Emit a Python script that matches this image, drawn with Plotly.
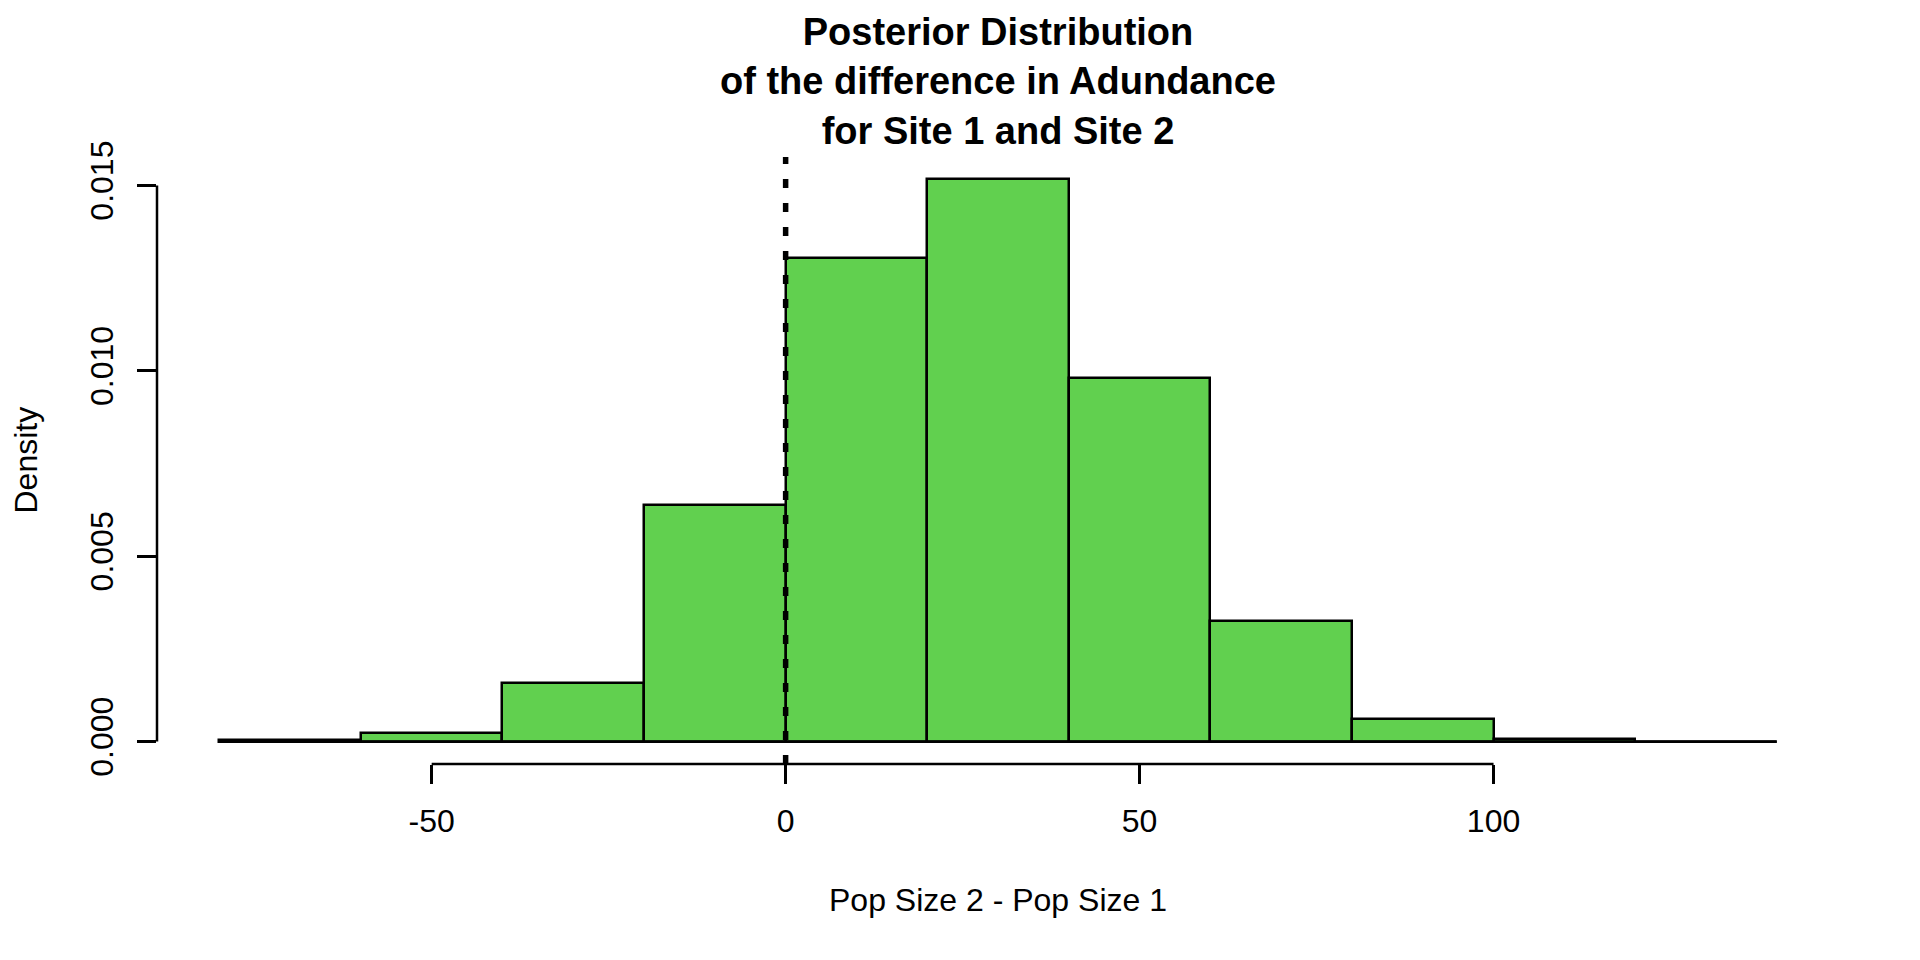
import plotly.graph_objects as go

# histogram of posterior draws (density scale), bins of width 20
breaks = [-80, -60, -40, -20, 0, 20, 40, 60, 80, 100, 120, 140]
density = [0.00003, 0.00023, 0.00159, 0.00638, 0.01305, 0.01516,
           0.00981, 0.00324, 0.00060, 0.00006, 0.0]

x_ticks = [-50, 0, 50, 100]
x_ticktext = ["-50", "0", "50", "100"]
y_ticks = [0.0, 0.005, 0.010, 0.015]
y_ticktext = ["0.000", "0.005", "0.010", "0.015"]

title_lines = ["Posterior Distribution", "of the difference in Adundance", "for Site 1 and Site 2"]
x_label = "Pop Size 2 - Pop Size 1"
y_label = "Density"
ref_line = 0

FONT = "Liberation Sans, Arial, sans-serif"
PAGE_OFFSET = 8  # default body margin of the html page
centers = [(a + b) / 2 for a, b in zip(breaks[:-1], breaks[1:])]

# R-style 4% range extension
xspan = breaks[-1] - breaks[0]
xr = [breaks[0] - 0.04 * xspan, breaks[-1] + 0.04 * xspan]
ymax = max(density)
yr = [-0.04 * ymax, ymax * 1.04]

fig = go.Figure()

fig.add_trace(go.Bar(x=centers, y=density, width=20,
                     marker=dict(color="#61D04F", line=dict(color="black", width=2.5)),
                     showlegend=False, hoverinfo="x+y"))

# outline along the baseline (covers the empty bins too)
fig.add_trace(go.Scatter(x=[breaks[0], breaks[-1]], y=[0, 0], mode="lines",
                         line=dict(color="black", width=2.5), showlegend=False,
                         hoverinfo="skip"))

# dotted reference line over the whole plot region
fig.add_shape(type="line", xref="x", yref="paper", x0=ref_line, x1=ref_line, y0=0, y1=1,
              line=dict(color="black", width=5.5, dash="9px,15px"))

# base-R style axis lines spanning first to last tick
fig.add_shape(type="line", xref="x", yref="paper", x0=x_ticks[0], x1=x_ticks[-1], y0=0, y1=0,
              line=dict(color="black", width=2.5))
fig.add_shape(type="line", xref="paper", yref="y", x0=0, x1=0, y0=y_ticks[0], y1=y_ticks[-1],
              line=dict(color="black", width=2.5))

fig.update_layout(
    width=1920, height=960,
    margin=dict(l=157 - PAGE_OFFSET, r=81 + PAGE_OFFSET, t=157 - PAGE_OFFSET, b=196 + PAGE_OFFSET),
    paper_bgcolor="white", plot_bgcolor="white",
    bargap=0,
    font=dict(family=FONT, size=32, color="black"),
    title=dict(text="<b>" + "<br>".join(title_lines) + "</b>",
               x=0.5, xref="paper", xanchor="center",
               y=1 - 37 / 960, yref="container", yanchor="middle",
               font=dict(family=FONT, size=38, color="black")),
    xaxis=dict(range=xr, tickvals=x_ticks, ticktext=x_ticktext, ticks="outside",
               ticklen=19, tickwidth=2.5, tickcolor="black", showline=False,
               showgrid=False, zeroline=False, ticklabelstandoff=10,
               tickfont=dict(size=32)),
    yaxis=dict(range=yr, tickvals=y_ticks, ticktext=y_ticktext, ticks="outside",
               ticklen=19, tickwidth=2.5, tickcolor="black", tickangle=-90,
               showline=False, showgrid=False, zeroline=False,
               ticklabelstandoff=11, tickfont=dict(size=32)),
    annotations=[
        dict(text=x_label, xref="paper", yref="paper", x=0.5, y=0,
             xanchor="center", yanchor="middle", yshift=-136, showarrow=False,
             font=dict(size=32)),
        dict(text=y_label, xref="paper", yref="paper", x=0, y=0.5,
             xanchor="center", yanchor="middle", xshift=-132, textangle=-90,
             showarrow=False, font=dict(size=32)),
    ],
)

fig.write_html("out.html")
